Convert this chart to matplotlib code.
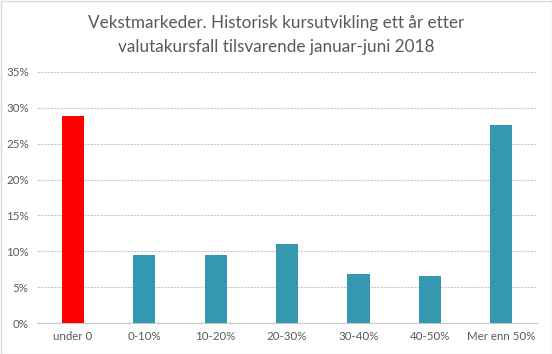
import matplotlib
matplotlib.use("Agg")
import matplotlib.pyplot as plt
from matplotlib.ticker import FuncFormatter, MultipleLocator

categories = ["under 0", "0-10%", "10-20%", "20-30%", "30-40%", "40-50%", "Mer enn 50%"]
values = [28.9, 9.5, 9.5, 11.0, 6.8, 6.6, 27.6]
colors = ["#FF0000"] + ["#3498B0"] * 6
title = "Vekstmarkeder. Historisk kursutvikling ett år etter\nvalutakursfall tilsvarende januar-juni 2018"

plt.rcParams["font.family"] = ["Lato", "DejaVu Sans"]
fig = plt.figure(figsize=(5.52, 3.54), dpi=100)
ax = fig.add_axes([37/552, 1-323/354, 500/552, 251/354])
x = range(len(categories))
ax.bar(x, values, width=0.31, color=colors, zorder=3)
ax.set_ylim(0, 35)
ax.set_xlim(-0.5, len(categories)-0.5)
ax.yaxis.set_major_locator(MultipleLocator(5))
ax.yaxis.set_major_formatter(FuncFormatter(lambda v, p: f"{v:.0f}%"))
ax.grid(axis="y", color="#C8C8C8", linestyle=(0, (2, 1)), linewidth=0.8, zorder=0)
for s in ["top", "right", "left"]:
    ax.spines[s].set_visible(False)
ax.spines["bottom"].set_color("#C8C8C8")
ax.tick_params(axis="both", length=0, labelsize=8.3, colors="#595959", pad=6)
ax.set_xticks(list(x))
ax.set_xticklabels(categories)
fig.text(0.5, 1-35/354, title, fontsize=12.3, color="#595959", ha="center", va="center",
         linespacing=1.55)
fig.patches.append(plt.Rectangle((0.5/552, 0.5/354), 1-1/552, 1-1/354, transform=fig.transFigure,
                                 fill=False, edgecolor="#D9D9D9", linewidth=1))
fig.savefig("out.png", dpi=100)
